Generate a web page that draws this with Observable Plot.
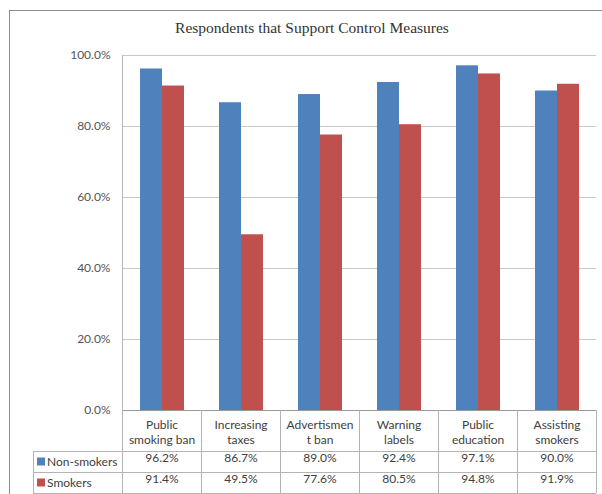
<!DOCTYPE html>
<html>
<head>
<meta charset="utf-8">
<script src="https://cdn.jsdelivr.net/npm/d3@7"></script>
<script src="https://cdn.jsdelivr.net/npm/@observablehq/plot@0.6"></script>
<style>
  body { margin: 0; background: #fff; }
</style>
</head>
<body>
<div id="chart"></div>
<script>
// Support for tobacco control measures, by smoking status (percent)
const categories = ["Public\nsmoking ban", "Increasing\ntaxes", "Advertismen\nt ban", "Warning\nlabels", "Public\neducation", "Assisting\nsmokers"];
const series = ["Non-smokers", "Smokers"];
const nonSmokers = [96.2, 86.7, 89.0, 92.4, 97.1, 90.0];
const smokers = [91.4, 49.5, 77.6, 80.5, 94.8, 91.9];
const yTicks = [0, 20, 40, 60, 80, 100];
const colors = ["#4f81bd", "#c0504d"];
const title = "Respondents that Support Control Measures";

const values = [nonSmokers, smokers];
const rows = series.flatMap((s, k) =>
  categories.map((c, i) => ({category: c, series: s, value: values[k][i]}))
);
const fmt = v => v.toFixed(1) + "%";

// Vertical offsets of the data-table rows below the zero line
const headerH = 41, rowH = 21;

const chart = Plot.plot({
  width: 602,
  height: 494,
  marginTop: 55,
  marginBottom: 84,
  marginLeft: 121,
  marginRight: 5,
  style: {fontFamily: "Lato, sans-serif", fontSize: "12px", color: "#404040", background: "#fff", overflow: "visible"},
  fx: {domain: categories, padding: 0, label: null},
  x: {domain: series, paddingInner: 0, paddingOuter: 0.77, axis: null},
  y: {domain: [0, 100], ticks: yTicks},
  color: {domain: series, range: colors},
  marks: [
    Plot.gridY(yTicks, {stroke: "#c8c8c8", strokeOpacity: 1}),
    Plot.axisY(yTicks, {tickSize: 0, tickPadding: 12, tickFormat: fmt, label: null, fill: "#555"}),
    Plot.axisFx({anchor: "bottom", tickSize: 0, tickPadding: 8, lineHeight: 1.25, label: null}),
    Plot.barY(rows, {fx: "category", x: "series", y: "value", fill: "series"}),
    Plot.ruleY([0], {stroke: "#999"}),
    Plot.text(rows, {filter: d => d.series === series[0], fx: "category", text: d => fmt(d.value), frameAnchor: "bottom", dy: headerH + rowH / 2}),
    Plot.text(rows, {filter: d => d.series === series[1], fx: "category", text: d => fmt(d.value), frameAnchor: "bottom", dy: headerH + rowH * 1.5})
  ]
});

document.getElementById("chart").append(chart);

// Chart border, title, and data-table grid
const svg = d3.select(chart);
const fx = chart.scale("fx");
const y = chart.scale("y");
const color = chart.scale("color");
const y0 = y.apply(0), yTop = y.apply(100);
const colLeft = categories.map(c => fx.apply(c));
const right = colLeft[colLeft.length - 1] + fx.bandwidth;
const tableLeft = 33;
const rowTops = [y0 + headerH, y0 + headerH + rowH, y0 + headerH + 2 * rowH];

svg.insert("rect", ":first-child")
  .attr("x", 9.5).attr("y", 10.5).attr("width", 700).attr("height", 700)
  .attr("fill", "#fff").attr("stroke", "#8c8c8c");

svg.append("text")
  .attr("x", 312).attr("y", 33)
  .attr("text-anchor", "middle")
  .attr("font-family", "'Liberation Serif', serif")
  .attr("font-size", 15.5)
  .attr("fill", "#333")
  .text(title);

const grid = svg.append("g").attr("stroke", "#b4b4b4").attr("shape-rendering", "crispEdges");
// value axis line
grid.append("line").attr("x1", colLeft[0]).attr("x2", colLeft[0]).attr("y1", yTop).attr("y2", y0);
// column separators
[...colLeft, right].forEach(x => {
  grid.append("line").attr("x1", x).attr("x2", x).attr("y1", y0).attr("y2", rowTops[2]);
});
grid.append("line").attr("x1", tableLeft).attr("x2", tableLeft).attr("y1", rowTops[0]).attr("y2", rowTops[2]);
rowTops.forEach(t => {
  grid.append("line").attr("x1", tableLeft).attr("x2", right).attr("y1", t).attr("y2", t);
});

// Row keys with swatches
series.forEach((s, k) => {
  const cy = rowTops[k] + rowH / 2;
  svg.append("rect")
    .attr("x", 37).attr("y", cy - 4).attr("width", 8).attr("height", 8)
    .attr("fill", color.apply(s));
  svg.append("text")
    .attr("x", 47).attr("y", cy).attr("dy", "0.35em")
    .attr("text-anchor", "start")
    .attr("font-family", "Lato, sans-serif").attr("font-size", 12)
    .attr("fill", "#404040")
    .text(s);
});
</script>
</body>
</html>
